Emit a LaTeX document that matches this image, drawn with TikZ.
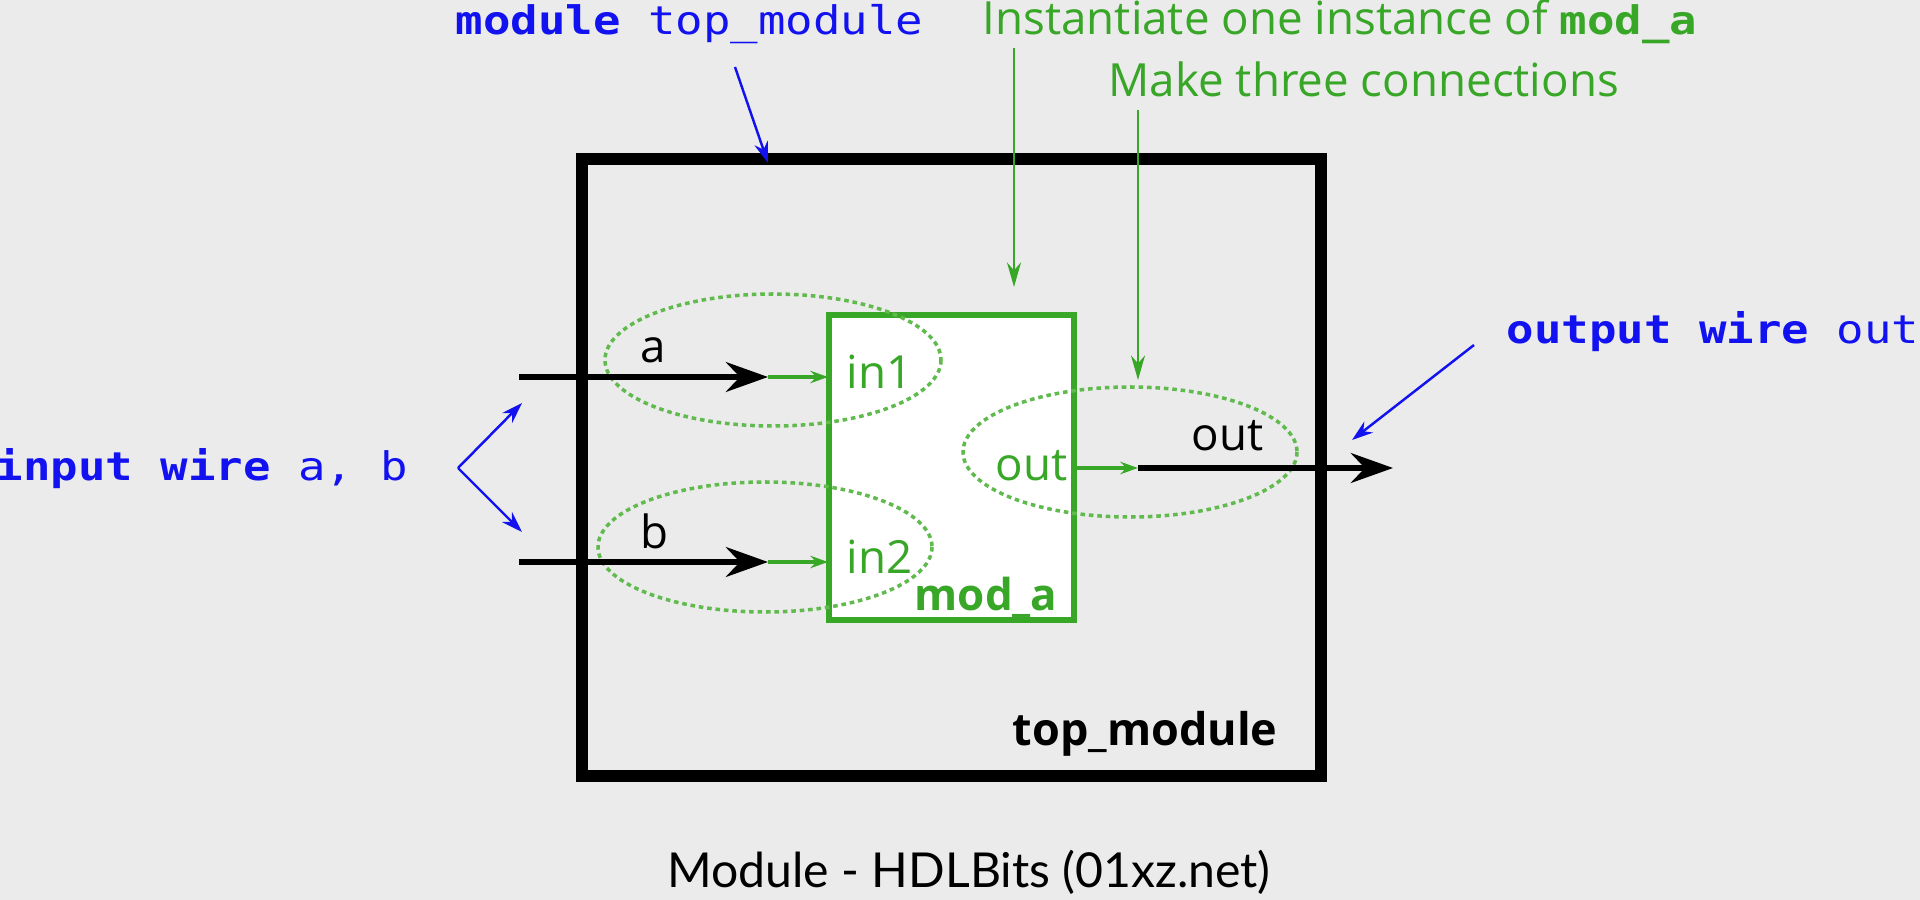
\documentclass[tikz,border=0pt]{standalone}
\usepackage{fontspec}
\setmainfont{Open Sans}
\newfontfamily\codefont[FakeStretch=1.16]{DejaVu Sans Mono}
\newfontfamily\capfont{Lato}
\usepackage{tikz}
\usetikzlibrary{arrows.meta, calc}
\definecolor{hdlgreen}{RGB}{56,166,38}
\definecolor{dotgreen}{RGB}{96,186,78}
\definecolor{hdlblue}{RGB}{18,18,240}
\definecolor{paper}{RGB}{235,235,235}
\tikzset{wire/.style={line width=1.6pt, -{Stealth[length=12pt, width=8.5pt, inset=4pt]}},
  port/.style={hdlgreen, line width=0.9pt, -{Stealth[length=5pt, width=3.5pt]}},
  note/.style={hdlgreen, line width=0.6pt, -{Stealth[length=7pt, width=4pt]}},
  hint/.style={hdlblue, line width=0.7pt, -{Stealth[length=6pt, width=4pt]}},
  conn/.style={dotgreen, line width=1pt, dash pattern=on 1.3pt off 1.1pt},
  lbl/.style={inner sep=0pt, anchor=base west, font=\fontsize{13pt}{15pt}\selectfont},
  code/.style={lbl, hdlblue, font=\codefont\fontsize{11.2pt}{13pt}\selectfont}}
\newcommand{\kw}[1]{{\bfseries #1}}

\begin{document}
\begin{tikzpicture}[x=0.1mm, y=-0.1mm]
  \useasboundingbox (0,0) rectangle (1920,900);
  \fill[paper] (0,0) rectangle (1920,900);
  % top_module and mod_a boxes
  \draw[line width=3.4pt] (582,159) rectangle (1321,776);
  \draw[hdlgreen, line width=1.5pt, fill=white] (829,315) rectangle (1074,620);
  \node[lbl, font=\fontsize{12.8pt}{15pt}\selectfont\bfseries] (topname) at (1012,745) {top\_module};
  \node[lbl, hdlgreen, font=\fontsize{12.5pt}{15pt}\selectfont\bfseries] (modname) at (914,610) {mod\_a};
  % the three connections
  \draw[conn] (773,360) ellipse [x radius=168, y radius=66];
  \draw[conn] (765,547) ellipse [x radius=167, y radius=65];
  \draw[conn] (1130,452) ellipse [x radius=167, y radius=65];
  \coordinate (ina) at (519,377);  \coordinate (pina) at (768,377);  \coordinate (in1) at (828,377);
  \coordinate (inb) at (519,562);  \coordinate (pinb) at (768,562);  \coordinate (in2) at (828,562);
  \coordinate (outp) at (1075,468); \coordinate (pout) at (1138,468); \coordinate (outw) at (1393,468);
  \draw[wire] (ina) -- (pina);
  \draw[port] (pina) -- (in1);
  \draw[wire] (inb) -- (pinb);
  \draw[port] (pinb) -- (in2);
  \draw[port] (outp) -- (pout);
  \draw[wire] (pout) -- (outw);
  \node[lbl] (wa) at (640,363) {a};
  \node[lbl] (wb) at (640,548) {b};
  \node[lbl] (wout) at (1191,450) {out};
  \node[lbl, hdlgreen] (pin1) at (846,388) {in1};
  \node[lbl, hdlgreen] (pin2) at (846,573) {in2};
  \node[lbl, hdlgreen] (pout1) at (995,480) {out};
  % notes
  \node[code] (modtxt) at (455,35) {\kw{module} top\_module};
  \node[code] (intxt) at (-5,480) {\kw{input wire} a, b};
  \node[code] (outtxt) at (1506,343) {\kw{output wire} out};
  \node[lbl, hdlgreen] (insttxt) at (982,35) {Instantiate one instance of {\codefont\fontsize{11.2pt}{13pt}\selectfont\bfseries mod\_a}};
  \node[lbl, hdlgreen] (conntxt) at (1108,97) {Make three connections};
  \coordinate (hm) at (735,67);    \coordinate (hmtip) at (768,163);
  \coordinate (hin) at (458,468);  \coordinate (hina) at (522,403); \coordinate (hinb) at (522,532);
  \coordinate (hout) at (1474,345); \coordinate (houttip) at (1352,440);
  \coordinate (ni) at (1014,48);   \coordinate (nitip) at (1014,287);
  \coordinate (nc) at (1138,110);  \coordinate (nctip) at (1138,380);
  \draw[hint] (hm) -- (hmtip);
  \draw[hint] (hin) -- (hina);
  \draw[hint] (hin) -- (hinb);
  \draw[hint] (hout) -- (houttip);
  \draw[note] (ni) -- (nitip);
  \draw[note] (nc) -- (nctip);
  % caption
  \node[inner sep=0pt, anchor=base, font=\capfont\fontsize{13.7pt}{16pt}\selectfont] (caption) at (969,887) {Module - HDLBits (01xz.net)};
\end{tikzpicture}
\end{document}
